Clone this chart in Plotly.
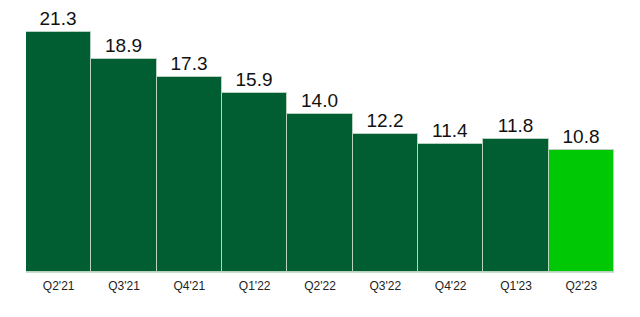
import plotly.graph_objects as go

categories = ["Q2'21", "Q3'21", "Q4'21", "Q1'22", "Q2'22", "Q3'22", "Q4'22", "Q1'23", "Q2'23"]
values = [21.3, 18.9, 17.3, 15.9, 14.0, 12.2, 11.4, 11.8, 10.8]
colors = ["#015E33"] * 8 + ["#00C804"]

fig = go.Figure(go.Bar(
    x=categories, y=values,
    marker=dict(color=colors, line=dict(color="#B8D3C0", width=1)),
    width=1.0,
    text=[f"{v:.1f}" for v in values],
    textposition="outside",
    textfont=dict(family="Liberation Sans, Arial, sans-serif", size=19, color="#111111"),
    cliponaxis=False,
))

fig.update_layout(
    width=640, height=317,
    margin=dict(l=26, r=26, t=0, b=45),
    paper_bgcolor="white", plot_bgcolor="white",
    bargap=0,
    showlegend=False,
    xaxis=dict(showgrid=False, ticks="", showline=True, linecolor="#C8DCCD", linewidth=1,
               ticklabelstandoff=3,
               tickfont=dict(family="Liberation Sans, Arial, sans-serif", size=12, color="#222222")),
    yaxis=dict(range=[0, 24.13], visible=False, showgrid=False),
)

fig.write_html("out.html")
